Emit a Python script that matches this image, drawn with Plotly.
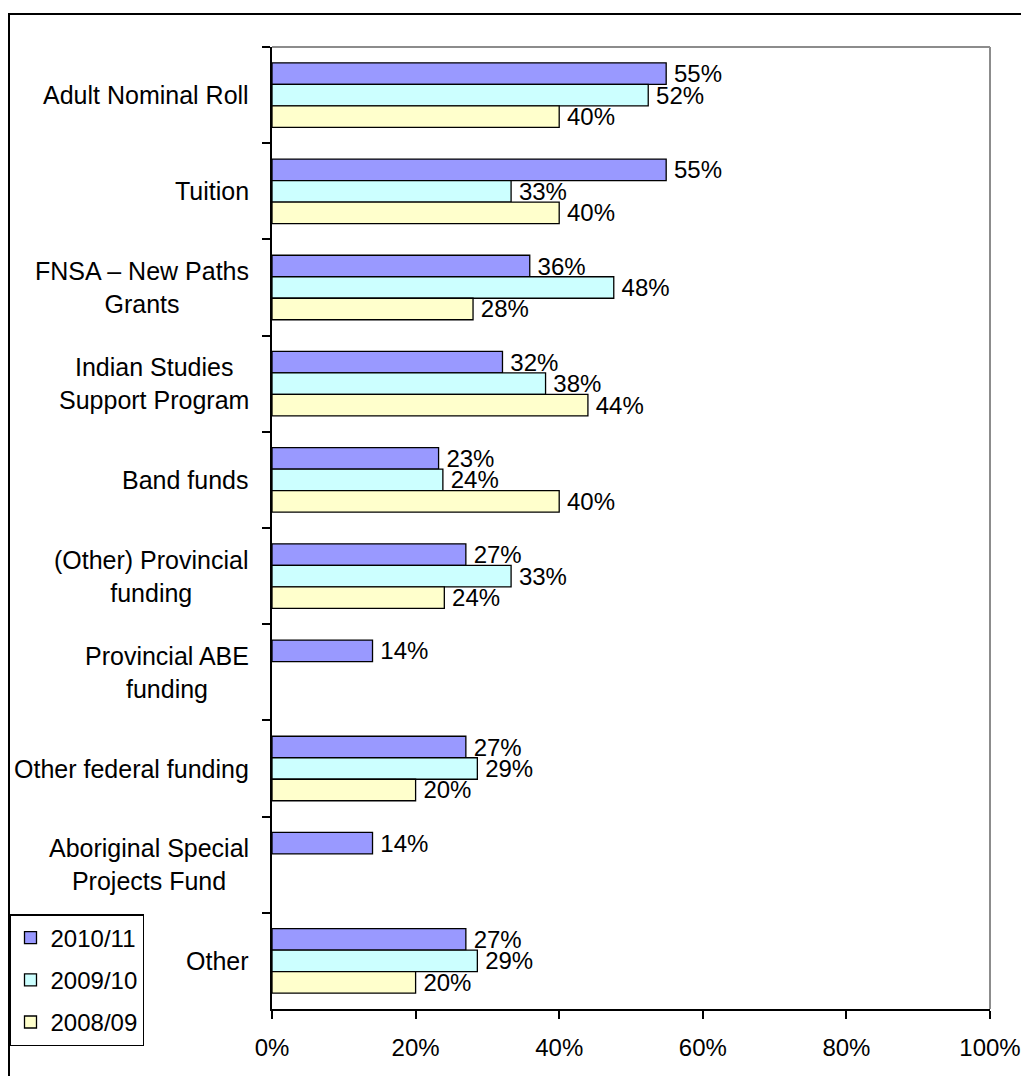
import plotly.graph_objects as go

categories = [
    "Adult Nominal Roll",
    "Tuition",
    "FNSA – New Paths<br>Grants",
    "Indian Studies<br>Support Program",
    "Band funds",
    "(Other) Provincial<br>funding",
    "Provincial ABE<br>funding",
    "Other federal funding",
    "Aboriginal Special<br>Projects Fund",
    "Other",
]
series_names = ["2010/11", "2009/10", "2008/09"]
values_2010 = [54.9, 54.9, 35.9, 32.1, 23.2, 27.0, 14.0, 27.0, 14.0, 27.0]
values_2009 = [52.4, 33.3, 47.6, 38.1, 23.8, 33.3, None, 28.6, None, 28.6]
values_2008 = [40.0, 40.0, 28.0, 44.0, 40.0, 24.0, None, 20.0, None, 20.0]
colors = ["#9999FF", "#CCFFFF", "#FFFFCC"]
x_ticks = [0, 20, 40, 60, 80, 100]
x_tick_labels = ["0%", "20%", "40%", "60%", "80%", "100%"]

FONT = "Arial, Liberation Sans, Helvetica, sans-serif"
W, H = 1021, 1076
L, R, T, B = 272, 31, 47, 67
pw, ph = W - L - R, H - T - B

fig = go.Figure()
for name, vals, col in zip(series_names, [values_2010, values_2009, values_2008], colors):
    fig.add_trace(go.Bar(
        y=categories, x=vals, name=name, orientation="h",
        marker=dict(color=col, line=dict(color="black", width=1.3)),
        texttemplate="\u2009%{x:.0f}%", textposition="outside",
        textfont=dict(family=FONT, size=24, color="black"),
        constraintext="none", cliponaxis=False,
        legendgroup=name,
    ))

# category labels (right-aligned block, centered lines)
annotations = []
for c in categories:
    annotations.append(dict(
        x=0, xref="paper", y=c, yref="y", text=c, showarrow=False,
        xanchor="right", align="center", xshift=-21,
        font=dict(family=FONT, size=25, color="black"),
    ))

shapes = [
    # gray top and right plot border
    dict(type="line", xref="paper", yref="paper", x0=0, x1=1, y0=1, y1=1,
         line=dict(color="#8c8c8c", width=2)),
    dict(type="line", xref="paper", yref="paper", x0=1, x1=1, y0=0, y1=1,
         line=dict(color="#8c8c8c", width=2)),
    # outer chart border (only left & top visible)
    dict(type="rect", xref="paper", yref="paper",
         x0=(9 - L) / pw, x1=1.2, y0=-0.3, y1=1 + (T - 14) / ph,
         line=dict(color="black", width=2)),
]

fig.update_layout(
    width=W, height=H,
    margin=dict(l=L, r=R, t=T, b=B, pad=0, autoexpand=False),
    paper_bgcolor="white", plot_bgcolor="white",
    barmode="group", bargap=0.33, bargroupgap=0,
    font=dict(family=FONT, size=24, color="black"),
    showlegend=True,
    legend=dict(
        x=(9 - L) / pw, xanchor="left", y=(ph - (914 - T)) / ph, yanchor="top",
        bgcolor="white", bordercolor="black", borderwidth=1.5,
        font=dict(family=FONT, size=24, color="black"),
        traceorder="grouped", tracegroupgap=8, itemwidth=30,
    ),
    annotations=annotations, shapes=shapes,
)
fig.update_xaxes(
    range=[0, 100], tickvals=x_ticks, ticktext=x_tick_labels,
    showgrid=False, zeroline=False, automargin=False,
    showline=True, linecolor="black", linewidth=2,
    ticks="outside", ticklen=8, tickwidth=2, tickcolor="black",
    ticklabelstandoff=8,
    tickfont=dict(family=FONT, size=24, color="black"),
)
fig.update_yaxes(
    categoryorder="array", categoryarray=categories, autorange="reversed",
    showgrid=False, zeroline=False, showticklabels=False, automargin=False,
    showline=True, linecolor="black", linewidth=2,
    ticks="outside", ticklen=8, tickwidth=2, tickcolor="black",
    tickson="boundaries",
)

fig.write_html(
    "out.html",
    config={"displayModeBar": False},
    post_script="document.body.style.margin='0px';document.body.style.overflow='hidden';",
)
